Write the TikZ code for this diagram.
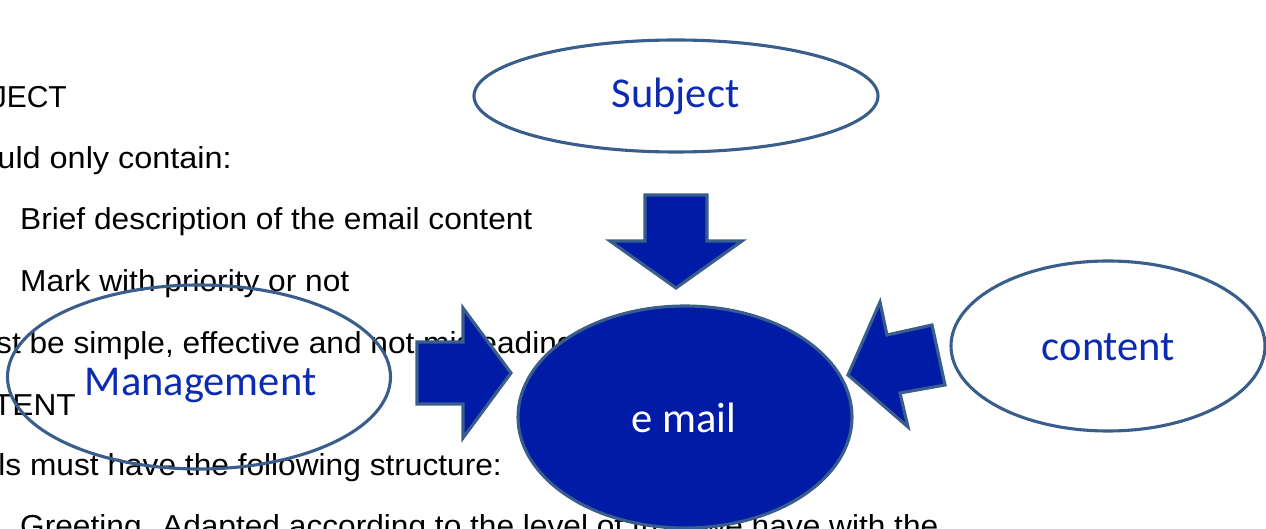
\documentclass[tikz,border=0pt]{standalone}
\usepackage{fontspec}
\usepackage{graphicx}
\usetikzlibrary{shapes.geometric}
\newfontfamily\bodyfont{Liberation Sans}
\newfontfamily\labelfont{Carlito}
\definecolor{rimblue}{HTML}{3A5E8C}
\definecolor{deepblue}{HTML}{001CA6}
\definecolor{inkblue}{HTML}{0D2BB0}
\newcommand{\widen}[2][1.045]{\scalebox{#1}[1]{#2}}

\begin{document}
\begin{tikzpicture}[x=1pt,y=-1pt,
  bodyline/.style={inner sep=0pt, font=\bodyfont\fontsize{30.3}{36}\selectfont, text=black},
  bubble/.style={ellipse, draw=rimblue, line width=3.1pt, inner sep=0pt},
  tag/.style={font=\labelfont\fontsize{42.5}{50}\selectfont, text=inkblue, inner sep=0pt, anchor=base},
  bigarrow/.style={fill=deepblue, draw=rimblue, line width=3.1pt, line join=miter}]

\useasboundingbox (0,0) rectangle (1266,529);
\clip (0,0) rectangle (1266,529);

% body text of the page underneath
\node[bodyline, anchor=base east] (l1) at (67,108) {\widen[0.99]{SUBJECT}};
\node[bodyline, anchor=base east] (l2) at (232,169) {\widen[1.07]{should only contain:}};
\node[bodyline, anchor=base west] (l3) at (20,230) {\widen{Brief description of the email content}};
\node[bodyline, anchor=base west] (l4) at (20,291) {\widen{Mark with priority or not}};
\node[bodyline, anchor=base west] (l5) at (-48,353) {\widen{must be simple, effective and not misleading}};
\node[bodyline, anchor=base east] (l6) at (76,415) {\widen{CONTENT}};
\node[bodyline, anchor=base east] (l7) at (502,475) {\widen{Emails must have the following structure:}};
\node[bodyline, anchor=base west] (l8) at (20,536) {\widen{Greeting. Adapted according to the level of trust we have with the}};

% outlined bubbles
\node[bubble, minimum width=404pt, minimum height=112pt] (subj) at (676,96) {};
\node[tag] (subjtxt) at (675.5,108) {Subject};

\node[bubble, minimum width=383pt, minimum height=184pt] (mgmt) at (199,377) {};
\node[tag] (mgmttxt) at (200.5,395) {Management};

\node[bubble, minimum width=314pt, minimum height=170pt] (cont) at (1108,346) {};
\node[tag] (conttxt) at (1108.5,360) {content};

% block arrows pointing at the centre
\draw[bigarrow] (645,195) -- (707,195) -- (707,241) -- (742,241) -- (676,288)
  -- (610,241) -- (645,241) -- cycle;
\draw[bigarrow] (417,342) -- (463,342) -- (463,308) -- (511,373) -- (463,438)
  -- (463,404) -- (417,404) -- cycle;
\draw[bigarrow] (848,375) -- (880,302) -- (887,335) -- (932,325) -- (945,385)
  -- (900,393) -- (908,427) -- cycle;

% central filled bubble
\node[bubble, fill=deepblue, minimum width=334pt, minimum height=222pt] (mail) at (685,417) {};
\node[tag, text=white] (mailtxt) at (684,432) {e mail};

\end{tikzpicture}
\end{document}
